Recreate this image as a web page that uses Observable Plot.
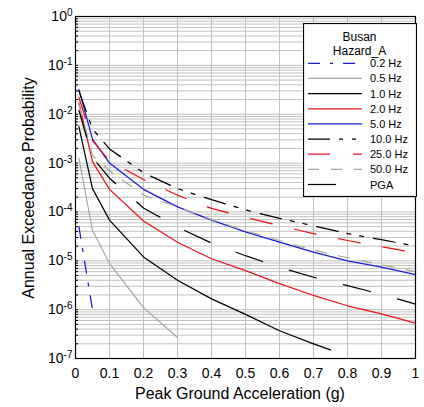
<!DOCTYPE html>
<html><head><meta charset="utf-8">
<script src="https://cdn.jsdelivr.net/npm/d3@7"></script>
<script src="https://cdn.jsdelivr.net/npm/@observablehq/plot@0.6"></script>
<style>
body{margin:0;background:#fff;font-family:"Liberation Sans",Arial,sans-serif;}
#wrap{position:relative;width:424px;height:407px;}
#legend{position:absolute;left:303px;top:23px;}
</style></head><body><div id="wrap"></div>
<script>
// ---- data ----
const xFull = [0.01,0.05,0.1,0.2,0.3,0.4,0.5,0.6,0.7,0.8,0.9,1.0];
const x02 = [0.01,0.05];
const x05 = [0.01,0.05,0.1,0.2,0.3];
const x10 = [0.01,0.05,0.1,0.2,0.3,0.4,0.5,0.6,0.7,0.75];

const hz02 = [5e-5,1e-6];
const hz05 = [1.26e-3,4.2e-5,8.8e-6,1.1e-6,2.7e-7];
const hz10 = [5.6e-3,3e-4,6.8e-5,1.2e-5,4e-6,1.66e-6,8e-7,3.7e-7,2.0e-7,1.5e-7];
const hz20 = [1.7e-2,1.07e-3,2.9e-4,6.5e-5,2.4e-5,1.1e-5,6.3e-6,3.4e-6,1.95e-6,1.2e-6,8.2e-7,5.3e-7];
const hz50 = [3.2e-2,3.1e-3,1.0e-3,2.9e-4,1.27e-4,6.8e-5,3.9e-5,2.4e-5,1.5e-5,1.0e-5,7.4e-6,5.2e-6];
const hz100 = [3.0e-2,5.0e-3,1.95e-3,6.3e-4,3.0e-4,1.78e-4,1.1e-4,7.4e-5,5.2e-5,3.6e-5,2.7e-5,2.0e-5];
const hz250 = [2.2e-2,2.9e-3,1.1e-3,4.6e-4,2.2e-4,1.18e-4,7.8e-5,5.2e-5,3.6e-5,2.6e-5,1.94e-5,1.46e-5];
const hz500 = [1.6e-2,1.42e-3,6.9e-4,2.2e-4,1.27e-4,7.0e-5,4.1e-5,2.6e-5,1.65e-5,1.15e-5,8.3e-6,6.0e-6];
const pgaV = [1.2e-2,1.3e-3,4.9e-4,1.2e-4,4.9e-5,2.3e-5,1.27e-5,7.4e-6,4.6e-6,3.1e-6,2.06e-6,1.3e-6];

const names = ["0.2 Hz","0.5 Hz","1.0 Hz","2.0 Hz","5.0 Hz","10.0 Hz","25.0 Hz","50.0 Hz","PGA"];
const xsList = [x02,x05,x10,xFull,xFull,xFull,xFull,xFull,xFull];
const ysList = [hz02,hz05,hz10,hz20,hz50,hz100,hz250,hz500,pgaV];

const xTickValues = [0,0.1,0.2,0.3,0.4,0.5,0.6,0.7,0.8,0.9,1];
const decades = [1e-7,1e-6,1e-5,1e-4,1e-3,1e-2,1e-1,1];
const legendTitle = ["Busan","Hazard_A"];
const xTitle = "Peak Ground Acceleration (g)";
const yTitle = "Annual Exceedance Probability";

// ---- styles ----
const BLUE = "#1c1cd8", RED = "#e8141c", GRAY = "#a8a8a8", BLACK = "#000";
const colors = [BLUE, GRAY, BLACK, RED, BLUE, BLACK, RED, GRAY, BLACK];
const dashes = ["12,10,3,10", null, null, null, null, "22,9,4,9,4,10", "22,23", "11,12", "28,28"];

const minorTicks = [];
for (let e = -7; e < 0; e++) for (let m = 1; m <= 9; m++) minorTicks.push(m * Math.pow(10, e));
minorTicks.push(1);

const series = names.map((n, i) => xsList[i].map((x, j) => ({x, y: ysList[i][j], s: n})));

const lineMarks = series.map((d, i) => Plot.line(d, {
  x: "x", y: "y", stroke: colors[i], strokeWidth: 1.25,
  strokeDasharray: dashes[i] || undefined
}));

const chart = Plot.plot({
  width: 424, height: 407,
  marginLeft: 75, marginRight: 9, marginTop: 16, marginBottom: 49,
  style: {fontFamily: "Liberation Sans, Arial, sans-serif", fontSize: "14px", color: "#000", background: "#fff"},
  x: {domain: [0, 1]},
  y: {type: "log", domain: [1e-7, 1]},
  marks: [
    Plot.gridY(minorTicks, {stroke: "#c0c0c0", strokeOpacity: 1}),
    Plot.gridX(xTickValues, {stroke: "#c0c0c0", strokeOpacity: 1}),
    ...lineMarks,
    Plot.axisY(minorTicks, {tickSize: -3, tickFormat: () => "", label: null}),
    Plot.frame({stroke: "#000", strokeWidth: 1.2}),
    Plot.axisX(xTickValues, {tickSize: 0, tickPadding: 10, tickFormat: d => String(+d.toFixed(1)), label: null}),
    Plot.axisY(decades, {tickSize: 0, tickPadding: 3, tickFormat: d => "E" + Math.round(Math.log10(d)), label: null})
  ]
});
document.getElementById("wrap").appendChild(chart);

// superscript exponents on y tick labels
const svg = d3.select(chart);
svg.selectAll("text").each(function() {
  const t = d3.select(this);
  const s = t.text();
  if (/^E-?\d+$/.test(s)) {
    const e = s.slice(1);
    t.text("");
    t.append("tspan").text("10");
    t.append("tspan").attr("dy", "-0.5em").attr("font-size", "10px").text(e);
  }
});

// axis titles
svg.append("text").attr("x", 240).attr("y", 399).attr("text-anchor", "middle")
  .attr("font-size", 16).attr("fill", "#000").text(xTitle);
svg.append("text").attr("transform", "translate(34,188) rotate(-90)").attr("text-anchor", "middle")
  .attr("font-size", 16).attr("fill", "#000").text(yTitle);

// legend
const LW = 113, LH = 173;
const lg = d3.select("#wrap").append("svg").attr("id", "legend")
  .attr("width", LW + 1).attr("height", LH + 1)
  .style("font-family", "Liberation Sans, Arial, sans-serif");
lg.append("rect").attr("x", 0.5).attr("y", 0.5).attr("width", LW).attr("height", LH)
  .attr("fill", "#fff").attr("stroke", "#000").attr("stroke-width", 1.2);
legendTitle.forEach((t, i) => lg.append("text").attr("x", 56.5).attr("y", 17.5 + i * 14)
  .attr("text-anchor", "middle").attr("font-size", 12).text(t));
names.forEach((n, i) => {
  const cy = 40.3 + i * 15.15;
  lg.append("line").attr("x1", 5).attr("x2", 59).attr("y1", cy).attr("y2", cy)
    .attr("stroke", colors[i]).attr("stroke-width", 1.25)
    .attr("stroke-dasharray", dashes[i] || null);
  lg.append("text").attr("x", 67).attr("y", cy + 4).attr("font-size", 11).text(n);
});
</script>
</body></html>
